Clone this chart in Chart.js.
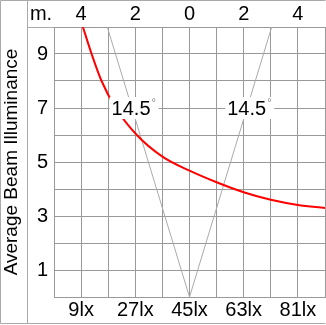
<!DOCTYPE html>
<html>
<head>
<meta charset="utf-8">
<script src="https://cdn.jsdelivr.net/npm/chart.js@4.4.1/dist/chart.umd.min.js"></script>
<style>
    html, body { margin: 0; padding: 0; background: #fff; }
    canvas { display: block; }
</style>
</head>
<body>
<canvas id="beamChart" width="326" height="325"></canvas>
<script>
// Data
const curveX = [9.6, 12.5, 15.8, 20.5, 27.5, 36, 45, 54, 63, 72, 81, 90];
const curveY = [10, 9, 8, 7, 6, 5.2, 4.68, 4.25, 3.88, 3.6, 3.41, 3.3];

const coneX = [17.7, 45, 72.3];
const coneY = [10, 0, 10];

const bottomLabels = ['9lx', '27lx', '45lx', '63lx', '81lx'];
const topLabels = ['4', '2', '0', '2', '4'];
const yLabels = ['1', '3', '5', '7', '9'];

const angleText = '14.5';
const angleX = [25.6, 64];
const angleY = [7, 7];

const FONT = "'Liberation Sans', Arial, sans-serif";
const GRID = '#999999';
const FRAME = '#aaaaaa';

function xLabel(list, value) {
    const i = (value / 9 - 1) / 2;
    return Number.isInteger(i) && list[i] !== undefined ? list[i] : '';
}

// Frame, corner text and the angle labels
const decorations = {
    id: 'decorations',
    afterDatasetsDraw(chart) {
        const ctx = chart.ctx;
        const xs = chart.scales.x, ys = chart.scales.y;
        ctx.save();
        ctx.font = '20px ' + FONT;
        ctx.textBaseline = 'middle';
        angleX.forEach((v, i) => {
            const px = xs.getPixelForValue(v);
            const py = ys.getPixelForValue(angleY[i]);
            const w = ctx.measureText(angleText).width;
            ctx.fillStyle = '#fff';
            ctx.fillRect(px - w / 2 - 2, py - 11, w + 10, 22);
            ctx.fillStyle = '#000';
            ctx.textAlign = 'center';
            ctx.fillText(angleText, px, py + 1);
            ctx.font = '11px ' + FONT;
            ctx.fillStyle = '#888';
            ctx.textAlign = 'left';
            ctx.fillText('°', px + w / 2 + 1, py - 5);
            ctx.font = '20px ' + FONT;
        });
        ctx.restore();
    },
    afterDraw(chart) {
        const ctx = chart.ctx;
        const W = chart.width, H = chart.height;
        ctx.save();
        ctx.strokeStyle = FRAME;
        ctx.lineWidth = 1;
        ctx.beginPath();
        ctx.moveTo(0.5, 0.5); ctx.lineTo(W - 0.5, 0.5);
        ctx.moveTo(0.5, 0.5); ctx.lineTo(0.5, H - 1.5);
        ctx.moveTo(0.5, H - 1.5); ctx.lineTo(W - 0.5, H - 1.5);
        ctx.moveTo(27.5, 0.5); ctx.lineTo(27.5, H - 1.5);
        ctx.moveTo(27.5, chart.chartArea.top + 0.5); ctx.lineTo(chart.chartArea.left, chart.chartArea.top + 0.5);
        ctx.stroke();
        ctx.fillStyle = '#000';
        ctx.font = '20px ' + FONT;
        ctx.textAlign = 'center';
        ctx.textBaseline = 'middle';
        ctx.fillText('m.', 41, 14);
        ctx.restore();
    }
};

new Chart(document.getElementById('beamChart'), {
    type: 'line',
    data: {
        datasets: [{
            data: curveX.map((x, i) => ({ x: x, y: curveY[i] })),
            borderColor: '#ff0000',
            borderWidth: 2,
            pointRadius: 0,
            cubicInterpolationMode: 'monotone',
            fill: false
        }, {
            data: coneX.map((x, i) => ({ x: x, y: coneY[i] })),
            borderColor: '#aaaaaa',
            borderWidth: 1,
            pointRadius: 0,
            tension: 0,
            fill: false
        }]
    },
    options: {
        responsive: false,
        animation: false,
        devicePixelRatio: 1,
        layout: { padding: 0 },
        plugins: { legend: { display: false }, tooltip: { enabled: false } },
        scales: {
            x: {
                type: 'linear',
                position: 'bottom',
                min: 0,
                max: 90,
                grid: { color: GRID, drawTicks: false },
                border: { color: GRID },
                ticks: {
                    stepSize: 9,
                    autoSkip: false,
                    maxRotation: 0,
                    padding: 1,
                    color: '#000',
                    font: { family: FONT, size: 20 },
                    callback: v => xLabel(bottomLabels, v)
                },
                afterFit: s => { s.height = 28; }
            },
            x2: {
                type: 'linear',
                position: 'top',
                min: 0,
                max: 90,
                grid: { display: false, drawTicks: false },
                border: { display: false },
                ticks: {
                    stepSize: 9,
                    autoSkip: false,
                    maxRotation: 0,
                    padding: 1,
                    color: '#000',
                    font: { family: FONT, size: 20 },
                    callback: v => xLabel(topLabels, v)
                },
                afterFit: s => { s.height = 27; }
            },
            y: {
                min: 0,
                max: 10,
                grid: { color: GRID, drawTicks: false },
                border: { color: GRID },
                ticks: {
                    stepSize: 1,
                    padding: 6,
                    color: '#000',
                    font: { family: FONT, size: 20 },
                    callback: v => yLabels.includes(String(v)) ? String(v) : ''
                },
                title: {
                    display: true,
                    text: 'Average Beam Illuminance',
                    color: '#000',
                    font: { family: FONT, size: 19 },
                    padding: 0
                },
                afterFit: s => { s.width = 54; }
            }
        }
    },
    plugins: [decorations]
});
</script>
</body>
</html>
